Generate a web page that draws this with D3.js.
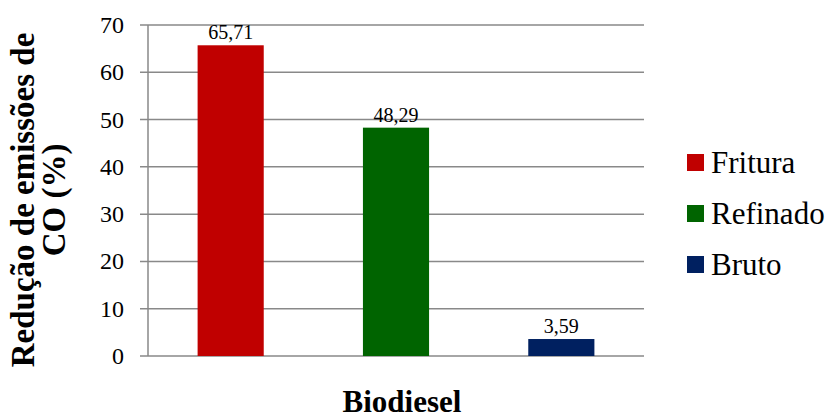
<!DOCTYPE html>
<html>
<head>
<meta charset="utf-8">
<script src="https://cdn.jsdelivr.net/npm/d3@7"></script>
<style>
  body { margin: 0; background: #fff; }
  text { font-family: "Liberation Serif", "Times New Roman", serif; fill: #000; }
</style>
</head>
<body>
<div id="chart"></div>
<script>
// data
var series = ["Fritura", "Refinado", "Bruto"];
var values = [65.71, 48.29, 3.59];
var labels = ["65,71", "48,29", "3,59"];
var colors = ["#C00000", "#006400", "#002060"];
var yTicks = [0, 10, 20, 30, 40, 50, 60, 70];

var svg = d3.select("#chart")
    .append("svg")
    .attr("width", 830)
    .attr("height", 419);

var plotLeft = 148, plotRight = 644, plotTop = 25, plotBottom = 356;

var y = d3.scaleLinear()
    .domain([0, 70])
    .range([plotBottom, plotTop]);

var x = d3.scaleBand()
    .domain(series)
    .range([plotLeft, plotRight])
    .paddingInner(0.6)
    .paddingOuter(0.3);

// gridlines
svg.append("g")
    .selectAll("line")
    .data(yTicks)
    .enter()
    .append("line")
    .attr("x1", plotLeft - 8)
    .attr("x2", plotRight)
    .attr("y1", function (d) { return y(d); })
    .attr("y2", function (d) { return y(d); })
    .attr("stroke", "#898989")
    .attr("stroke-width", 1.5);

// y axis line
svg.append("line")
    .attr("x1", plotLeft)
    .attr("x2", plotLeft)
    .attr("y1", plotTop)
    .attr("y2", plotBottom)
    .attr("stroke", "#898989")
    .attr("stroke-width", 1.5);

// tick labels
svg.append("g")
    .selectAll("text")
    .data(yTicks)
    .enter()
    .append("text")
    .attr("x", 124)
    .attr("y", function (d) { return y(d) + 8; })
    .attr("text-anchor", "end")
    .attr("font-size", "24px")
    .text(function (d) { return d; });

// bars
svg.append("g")
    .selectAll("rect")
    .data(values)
    .enter()
    .append("rect")
    .attr("x", function (d, i) { return x(series[i]); })
    .attr("y", function (d) { return y(d); })
    .attr("width", x.bandwidth())
    .attr("height", function (d) { return y(0) - y(d); })
    .attr("fill", function (d, i) { return colors[i]; });

// value labels
svg.append("g")
    .selectAll("text")
    .data(values)
    .enter()
    .append("text")
    .attr("x", function (d, i) { return x(series[i]) + x.bandwidth() / 2; })
    .attr("y", function (d) { return y(d) - 6; })
    .attr("text-anchor", "middle")
    .attr("font-size", "20px")
    .text(function (d, i) { return labels[i]; });

// legend
var legendItem = svg.append("g")
    .selectAll("g")
    .data(series)
    .enter()
    .append("g")
    .attr("transform", function (d, i) {
        return "translate(687," + (154 + i * 51) + ")";
    });

legendItem.append("rect")
    .attr("width", 17)
    .attr("height", 17)
    .attr("fill", function (d, i) { return colors[i]; });

legendItem.append("text")
    .attr("x", 24)
    .attr("y", 19)
    .attr("font-size", "31px")
    .text(function (d) { return d; });

// axis titles
svg.append("text")
    .attr("x", 402)
    .attr("y", 412)
    .attr("text-anchor", "middle")
    .attr("font-size", "31px")
    .attr("font-weight", 700)
    .text("Biodiesel");

var yTitle = svg.append("text")
    .attr("transform", "translate(34,200) rotate(-90)")
    .attr("text-anchor", "middle")
    .attr("font-size", "33px")
    .attr("font-weight", 700);

yTitle.append("tspan")
    .attr("x", 0)
    .attr("y", 0)
    .text("Redução de emissões de");

yTitle.append("tspan")
    .attr("x", 0)
    .attr("y", 31)
    .text("CO (%)");
</script>
</body>
</html>
